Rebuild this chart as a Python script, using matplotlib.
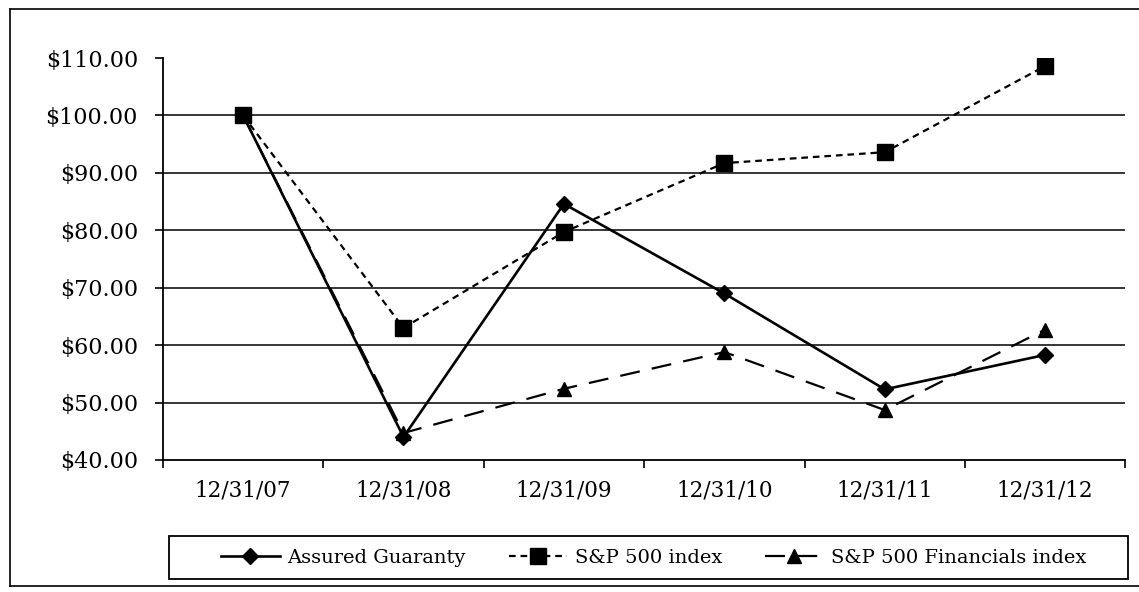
import numpy as np
import matplotlib
matplotlib.use("Agg")
import matplotlib.pyplot as plt
from matplotlib.lines import Line2D
from matplotlib.patches import Rectangle

# data
dates = ["12/31/07", "12/31/08", "12/31/09", "12/31/10", "12/31/11", "12/31/12"]
assured_guaranty = [100.0, 44.0, 84.6, 69.0, 52.3, 58.3]
sp500 = [100.0, 63.0, 79.7, 91.7, 93.6, 108.6]
sp500_financials = [100.0, 44.7, 52.4, 58.8, 48.7, 62.7]
y_ticks = [40, 50, 60, 70, 80, 90, 100, 110]
grid_levels = [50, 60, 70, 80, 90, 100]

plt.rcParams["font.family"] = ["DejaVu Serif"]

fig = plt.figure(figsize=(11.39, 5.92), dpi=100)
ax = fig.add_axes([0.143, 0.223, 0.845, 0.679])

x = np.arange(len(dates)) + 0.5

for level in grid_levels:
    ax.axhline(level, color="black", linewidth=1.1, zorder=1)

ax.plot(x, assured_guaranty, color="black", linewidth=1.9, linestyle="-",
        marker="D", markersize=8.5, label="Assured Guaranty", zorder=3)
ax.plot(x, sp500, color="black", linewidth=1.6, linestyle=(0, (3, 2.2)),
        marker="s", markersize=11, label="S&P 500 index", zorder=3)
ax.plot(x, sp500_financials, color="black", linewidth=1.6, linestyle=(0, (9, 5.5)),
        marker="^", markersize=10, label="S&P 500 Financials index", zorder=3)

ax.set_xlim(0, len(dates))
ax.set_ylim(40, 110)
ax.set_yticks(y_ticks)
ax.set_yticklabels([f"${v:.2f}" for v in y_ticks], fontsize=16)

ax.set_xticks(np.arange(len(dates) + 1))
ax.set_xticklabels([])
ax.set_xticks(x, minor=True)
ax.set_xticklabels(dates, minor=True, fontsize=15.5)
ax.tick_params(axis="x", which="minor", length=0, pad=14)
ax.tick_params(axis="x", which="major", direction="out", length=6, width=1.2)
ax.tick_params(axis="y", direction="out", length=6, width=1.2, pad=12)

ax.spines["top"].set_visible(False)
ax.spines["right"].set_visible(False)
ax.spines["left"].set_linewidth(1.3)
ax.spines["bottom"].set_linewidth(1.3)

# legend box drawn separately, entries centred inside it
box_x0, box_y0, box_w, box_h = 0.148, 0.022, 0.842, 0.072
fig.add_artist(Rectangle((box_x0, box_y0), box_w, box_h, transform=fig.transFigure,
                         fill=False, edgecolor="black", linewidth=1.3))
leg = fig.legend(loc="center", bbox_to_anchor=(box_x0 + box_w / 2 + 0.005, box_y0 + box_h / 2),
                 ncol=3, fontsize=14, frameon=False, handlelength=3.0,
                 handletextpad=0.4, columnspacing=2.2)

# outer border of the scanned chart (right side cut off in the picture)
fig.add_artist(Line2D([0.009, 1.0], [0.985, 0.985], color="black", linewidth=1.2))
fig.add_artist(Line2D([0.009, 0.009], [0.985, 0.010], color="black", linewidth=1.2))
fig.add_artist(Line2D([0.009, 1.0], [0.010, 0.010], color="black", linewidth=1.2))

plt.savefig("out.png", dpi=100)
